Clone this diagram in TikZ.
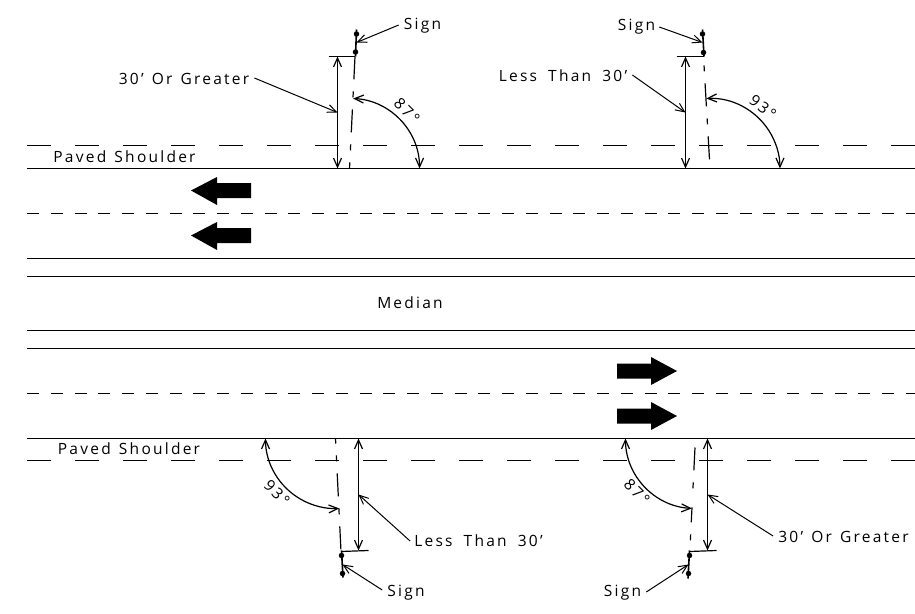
\documentclass[tikz,border=0pt]{standalone}
\usepackage{fontspec}
\setmainfont[LetterSpace=14.5,WordSpace=1.3]{Open Sans}
\usetikzlibrary{arrows.meta}
\tikzset{
    roadline/.style={line width=1.4pt},
    lanedash/.style={line width=1.3pt,dash pattern=on 12pt off 11.75pt},
    shoulderdash/.style={line width=1.3pt,dash pattern=on 24pt off 24pt},
    centreline/.style={line width=1.2pt,dash pattern=on 23pt off 12pt on 6pt off 12pt},
    dimline/.style={line width=1.2pt,<->},
    leader/.style={line width=1pt,->},
    post/.style={line width=1.6pt},
    signdot/.style={circle,fill=black,inner sep=0pt,minimum size=5.5pt},
    lbl/.style={font=\fontsize{15.5}{15.5}\selectfont,inner sep=0pt}
}
\begin{document}
\begin{tikzpicture}[x=1pt,y=-1pt,>={Straight Barb[length=9pt,width=8pt]},line cap=butt]
    \useasboundingbox (0,0) rectangle (915,613);
    \begin{scope}[shift={(.5,.5)}]

    % draw the road
    \draw[shoulderdash] (26.5,145) -- (915,145);
    \draw[roadline] (26.5,168) -- (915,168);
    \draw[lanedash] (26.5,213) -- (915,213);
    \draw[roadline] (26.5,258) -- (915,258);
    \draw[roadline] (26.5,276) -- (915,276);
    \draw[roadline] (26.5,330) -- (915,330);
    \draw[roadline] (26.5,348) -- (915,348);
    \draw[lanedash] (26.5,393) -- (915,393);
    \draw[roadline] (26.5,438) -- (915,438);
    \draw[shoulderdash] (26.5,460) -- (915,460);

    % traffic arrows
    \fill (190.5,190) -- (216.5,176.5) -- (216.5,182.5) -- (250.5,182.5) -- (250.5,197.5) -- (216.5,197.5) -- (216.5,204.5) -- cycle;
    \fill (190.5,235) -- (216.5,221.5) -- (216.5,227.5) -- (250.5,227.5) -- (250.5,242.5) -- (216.5,242.5) -- (216.5,249.5) -- cycle;
    \fill (676.5,370.5) -- (650.5,356.5) -- (650.5,363) -- (616.5,363) -- (616.5,378) -- (650.5,378) -- (650.5,384.5) -- cycle;
    \fill (676.5,415.5) -- (650.5,401.5) -- (650.5,408) -- (616.5,408) -- (616.5,423) -- (650.5,423) -- (650.5,429.5) -- cycle;

    % text on the road
    \node[lbl] (shoulderN) at (124,156.5) {Paved Shoulder};
    \node[lbl] (shoulderS) at (128.5,448.5) {Paved Shoulder};
    \node[lbl] (median) at (409.5,302.5) {Median};

    % sign, top left
    \draw[post] (356,29) -- (355,56);
    \node[signdot] (dotA) at (356,33.5) {};
    \node[signdot] (dotB) at (355,51.5) {};
    \coordinate (footA) at (349,168);
    \coordinate (topA) at (354.5,56);
    \draw[centreline] (topA) -- (footA);
    \coordinate (extA) at (328,56);
    \draw[line width=1.2pt] (extA) -- (topA);
    \coordinate (dimAt) at (337,56);
    \coordinate (dimAb) at (337,168);
    \draw[dimline] (dimAt) -- (dimAb);
    \node[lbl] (signA) at (422,25.5) {Sign};
    \coordinate (postA) at (356,42);
    \draw[leader] (signA.west) ++(-5,-1) -- (postA);
    \node[lbl] (distA) at (183.5,78.5) {30' Or Greater};
    \coordinate (hitA) at (337,112);
    \draw[leader] (distA.east) ++(5,-1) -- (hitA);
    \coordinate (arcAs) at (352.7,98);
    \draw[dimline] (arcAs) arc[start angle=87,end angle=0,radius=70pt];
    \node[lbl,rotate=-45] (angA) at (406.5,110.5) {87°};

    % sign, top right
    \draw[post] (702,29) -- (703.5,56);
    \node[signdot] (dotC) at (702,33.5) {};
    \node[signdot] (dotD) at (703,52) {};
    \coordinate (topC) at (703,56);
    \coordinate (footC) at (709,159);
    \draw[centreline,dash phase=26pt] (topC) -- (footC);
    \coordinate (extC) at (676,56);
    \draw[line width=1.2pt] (extC) -- (topC);
    \coordinate (dimCt) at (685,56);
    \coordinate (dimCb) at (685,168);
    \draw[dimline] (dimCt) -- (dimCb);
    \node[lbl] (signC) at (636,26.5) {Sign};
    \coordinate (postC) at (702,42);
    \draw[leader] (signC.east) ++(4,0) -- (postC);
    \node[lbl] (distC) at (562.5,75.5) {Less\hspace{3pt} Than\hspace{3pt} 30'};
    \coordinate (hitC) at (685,112);
    \draw[leader] (distC.east) ++(5,-1) -- (hitC);
    \coordinate (arcCs) at (705.8,98);
    \draw[dimline] (arcCs) arc[start angle=93,end angle=0,radius=70pt];
    \node[lbl,rotate=-38] (angC) at (762.5,106.5) {93°};

    % sign, bottom left
    \draw[post] (341,550) -- (342.5,577);
    \node[signdot] (dotE) at (341,555) {};
    \node[signdot] (dotF) at (342,573) {};
    \coordinate (topE) at (335,438);
    \coordinate (footE) at (340.5,551);
    \draw[centreline,dash phase=18pt] (topE) -- (footE);
    \coordinate (extE) at (368,550);
    \draw[line width=1.2pt] (footE) -- (extE);
    \coordinate (dimEt) at (358,438);
    \coordinate (dimEb) at (358,550);
    \draw[dimline] (dimEt) -- (dimEb);
    \node[lbl] (signE) at (405.5,592.5) {Sign};
    \coordinate (postE) at (342,564);
    \draw[leader] (signE.west) ++(-5,-3) -- (postE);
    \node[lbl] (distE) at (478,540.5) {Less\hspace{3pt} Than\hspace{3pt} 30'};
    \coordinate (hitE) at (358,494);
    \draw[leader] (distE.west) ++(-4,0) -- (hitE);
    \coordinate (arcEs) at (265,438);
    \draw[dimline] (arcEs) arc[start angle=180,end angle=273,radius=70pt];
    \node[lbl,rotate=-45] (angE) at (276.5,492.5) {93°};

    % sign, bottom right
    \draw[post] (689,550) -- (687.5,578);
    \node[signdot] (dotG) at (689,555) {};
    \node[signdot] (dotH) at (688,573) {};
    \coordinate (topG) at (694.5,447);
    \coordinate (footG) at (689.3,551);
    \draw[line width=1.2pt,dash pattern=on 23pt off 12pt on 6pt off 19pt on 15pt off 12pt on 6pt off 12pt] (topG) -- (footG);
    \coordinate (extG) at (716,550);
    \draw[line width=1.2pt] (footG) -- (extG);
    \coordinate (dimGt) at (707,438);
    \coordinate (dimGb) at (707,550);
    \draw[dimline] (dimGt) -- (dimGb);
    \node[lbl] (signG) at (622,592.5) {Sign};
    \coordinate (postG) at (688,564);
    \draw[leader] (signG.east) ++(5,-1) -- (postG);
    \node[lbl] (distG) at (843,536.5) {30' Or Greater};
    \coordinate (hitG) at (707,494);
    \draw[leader] (distG.west) ++(-5,-1) -- (hitG);
    \coordinate (arcGs) at (625,438);
    \draw[dimline] (arcGs) arc[start angle=180,end angle=267,radius=70pt];
    \node[lbl,rotate=-45] (angG) at (636.5,491.5) {87°};
    \end{scope}
\end{tikzpicture}
\end{document}
